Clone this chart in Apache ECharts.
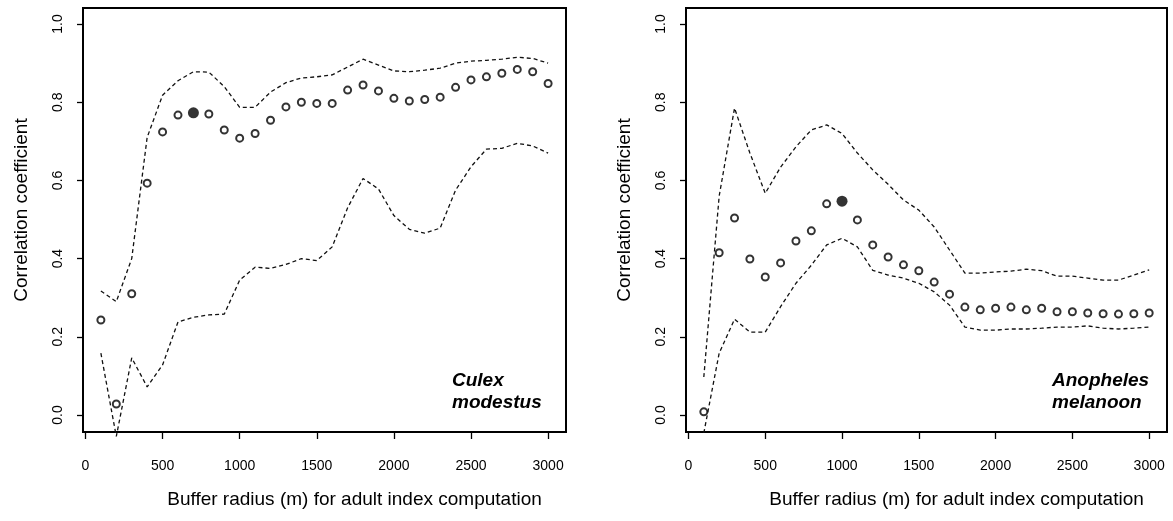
<!DOCTYPE html>
<html>
<head>
<meta charset="utf-8">
<title>Correlation vs buffer radius</title>
<script src="https://cdn.jsdelivr.net/npm/echarts@6/dist/echarts.min.js"></script>
<style>
  html, body { margin: 0; padding: 0; background: #fff; }
  #chart { width: 1173px; height: 521px; }
</style>
</head>
<body>
<div id="chart"></div>
<script>
// buffer radius (m) for each computation
var radius = [100, 200, 300, 400, 500, 600, 700, 800, 900, 1000,
              1100, 1200, 1300, 1400, 1500, 1600, 1700, 1800, 1900, 2000,
              2100, 2200, 2300, 2400, 2500, 2600, 2700, 2800, 2900, 3000];
var xTicks = [0, 500, 1000, 1500, 2000, 2500, 3000];
var yTicks = [0, 0.2, 0.4, 0.6, 0.8, 1.0];

// Culex modestus
var culexR = [0.243, 0.028, 0.31, 0.593, 0.724, 0.767, 0.773, 0.77, 0.729, 0.708,
              0.72, 0.754, 0.788, 0.80, 0.797, 0.797, 0.831, 0.844, 0.829, 0.81,
              0.803, 0.807, 0.813, 0.838, 0.857, 0.865, 0.874, 0.884, 0.878, 0.848];
var culexUpper = [0.317, 0.29, 0.40, 0.71, 0.818, 0.855, 0.878, 0.877, 0.84, 0.787,
                  0.787, 0.826, 0.85, 0.862, 0.865, 0.87, 0.89, 0.91, 0.895, 0.88,
                  0.878, 0.882, 0.887, 0.90, 0.905, 0.907, 0.91, 0.915, 0.912, 0.90];
var culexLower = [0.158, -0.055, 0.146, 0.072, 0.128, 0.238, 0.25, 0.256, 0.258, 0.345,
                  0.378, 0.375, 0.385, 0.40, 0.395, 0.43, 0.53, 0.605, 0.578, 0.51,
                  0.475, 0.465, 0.478, 0.575, 0.635, 0.68, 0.682, 0.695, 0.688, 0.67];
var culexBest = 700;

// Anopheles melanoon
var anophR = [0.008, 0.415, 0.504, 0.399, 0.353, 0.389, 0.445, 0.471, 0.54, 0.547,
              0.499, 0.435, 0.404, 0.384, 0.369, 0.34, 0.309, 0.276, 0.269, 0.273,
              0.276, 0.269, 0.273, 0.264, 0.264, 0.261, 0.259, 0.258, 0.259, 0.261];
var anophUpper = [0.097, 0.56, 0.785, 0.67, 0.567, 0.634, 0.686, 0.729, 0.742, 0.72,
                  0.67, 0.627, 0.59, 0.55, 0.524, 0.481, 0.422, 0.363, 0.363, 0.366,
                  0.368, 0.373, 0.369, 0.355, 0.355, 0.35, 0.345, 0.345, 0.358, 0.371];
var anophLower = [-0.046, 0.158, 0.245, 0.212, 0.212, 0.277, 0.337, 0.383, 0.435, 0.452,
                  0.43, 0.37, 0.358, 0.35, 0.337, 0.315, 0.281, 0.225, 0.217, 0.217,
                  0.22, 0.22, 0.222, 0.225, 0.225, 0.228, 0.222, 0.22, 0.222, 0.225];
var anophBest = 1000;

var FONT = '"Liberation Sans", Arial, sans-serif';

function pairs(ys, keep) {
    var out = [];
    for (var i = 0; i < radius.length; i++) {
        if (!keep || keep(radius[i])) out.push([radius[i], ys[i]]);
    }
    return out;
}

function xAxisFor(idx) {
    return {
        type: 'value', gridIndex: idx, min: -16, max: 3116,
        axisLine: { show: false, onZero: false },
        splitLine: { show: false },
        axisTick: { show: true, inside: false, length: 7, customValues: xTicks,
                    lineStyle: { color: '#000', width: 1.3 } },
        axisLabel: { customValues: xTicks, color: '#000', fontSize: 14, margin: 27,
                     fontFamily: FONT,
                     formatter: function (v) { return String(v); } },
        name: 'Buffer radius (m) for adult index computation',
        nameLocation: 'middle', nameGap: 58,
        nameTextStyle: { color: '#000', fontSize: 19, fontFamily: FONT,
                         padding: [0, 0, 0, 60] }
    };
}

function yAxisFor(idx) {
    return {
        type: 'value', gridIndex: idx, min: -0.0435, max: 1.041,
        axisLine: { show: false, onZero: false },
        splitLine: { show: false },
        axisTick: { show: true, inside: false, length: 6, customValues: yTicks,
                    lineStyle: { color: '#000', width: 1.3 } },
        axisLabel: { customValues: yTicks, rotate: 90, color: '#000', fontSize: 14,
                     margin: 18, fontFamily: FONT,
                     formatter: function (v) { return v.toFixed(1); } },
        name: 'Correlation coefficient',
        nameLocation: 'middle', nameRotate: 90, nameGap: 52,
        nameTextStyle: { color: '#000', fontSize: 19, fontFamily: FONT,
                         padding: [0, 0, 0, 20] }
    };
}

function bandLine(idx, ys) {
    return {
        type: 'line', xAxisIndex: idx, yAxisIndex: idx,
        data: pairs(ys), symbol: 'none', clip: false, silent: true,
        lineStyle: { color: '#111', width: 1.3, type: [4, 3] }
    };
}

function openPoints(idx, ys, best) {
    return {
        type: 'scatter', xAxisIndex: idx, yAxisIndex: idx,
        data: pairs(ys, function (x) { return x !== best; }),
        symbol: 'emptyCircle', symbolSize: 7,
        itemStyle: { color: '#000', borderWidth: 1.5 }
    };
}

function bestPoint(idx, ys, best) {
    return {
        type: 'scatter', xAxisIndex: idx, yAxisIndex: idx,
        data: pairs(ys, function (x) { return x === best; }),
        symbol: 'circle', symbolSize: 11,
        itemStyle: { color: '#000' }
    };
}

var chart = echarts.init(document.getElementById('chart'));
var option = {
    animation: false,
    backgroundColor: '#fff',
    grid: [
        { left: 83, top: 8, width: 483, height: 424, show: true,
          borderColor: '#000', borderWidth: 2, backgroundColor: 'transparent' },
        { left: 686, top: 8, width: 481, height: 424, show: true,
          borderColor: '#000', borderWidth: 2, backgroundColor: 'transparent' }
    ],
    xAxis: [xAxisFor(0), xAxisFor(1)],
    yAxis: [yAxisFor(0), yAxisFor(1)],
    graphic: [
        { type: 'text', left: 452, top: 370,
          style: { text: 'Culex\nmodestus', fill: '#000', fontSize: 19,
                   fontWeight: 'bold', fontStyle: 'italic', fontFamily: FONT,
                   lineHeight: 22 } },
        { type: 'text', left: 1052, top: 370,
          style: { text: 'Anopheles\nmelanoon', fill: '#000', fontSize: 19,
                   fontWeight: 'bold', fontStyle: 'italic', fontFamily: FONT,
                   lineHeight: 22 } }
    ],
    series: [
        bandLine(0, culexUpper),
        bandLine(0, culexLower),
        openPoints(0, culexR, culexBest),
        bestPoint(0, culexR, culexBest),
        bandLine(1, anophUpper),
        bandLine(1, anophLower),
        openPoints(1, anophR, anophBest),
        bestPoint(1, anophR, anophBest)
    ]
};
chart.setOption(option);
</script>
</body>
</html>
